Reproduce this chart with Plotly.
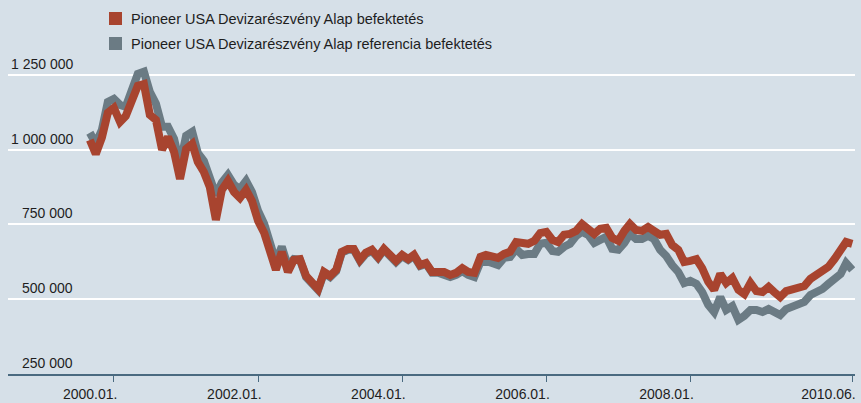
import pandas as pd
import plotly.graph_objects as go

# ---- data (monthly readings, thousand HUF) ----
start_month = "1999-09-01"
fund_k = [
    1032, 985, 1040, 1123, 1139, 1092, 1112, 1173, 1213, 1219,
    1116, 1099, 999, 1042, 992, 902, 1002, 1019, 959, 925,
    875, 765, 865, 895, 858, 838, 865, 828, 761, 721,
    671, 598, 658, 591, 631, 634, 578, 558, 534, 591,
    578, 598, 658, 668, 668, 631, 655, 665, 641, 668,
    644, 628, 648, 634, 648, 614, 621, 591, 591, 591,
    581, 588, 604, 591, 588, 641, 648, 644, 638, 651,
    658, 691, 691, 685, 695, 721, 725, 698, 691, 715,
    718, 728, 751, 738, 718, 735, 738, 705, 695, 728,
    751, 731, 728, 741, 731, 715, 718, 681, 665, 624,
    628, 634, 604, 558, 531, 584, 554, 571, 531, 517,
    554, 527, 524, 541, 524, 507, 527, 534, 541, 544,
    568, 584, 594, 608, 634, 665, 691, 685,
]
benchmark_k = [
    1056, 1020, 1066, 1159, 1169, 1149, 1143, 1196, 1253, 1260,
    1193, 1153, 1076, 1076, 1036, 949, 1046, 1059, 989, 962,
    905, 848, 889, 915, 882, 868, 895, 858, 795, 751,
    691, 624, 675, 611, 634, 631, 574, 554, 531, 588,
    574, 594, 655, 665, 665, 628, 651, 661, 638, 665,
    641, 624, 644, 631, 644, 611, 618, 588, 588, 584,
    574, 581, 594, 581, 574, 624, 628, 621, 614, 638,
    641, 668, 648, 651, 651, 685, 688, 661, 658, 675,
    685, 711, 725, 715, 688, 698, 708, 668, 665, 688,
    718, 701, 701, 711, 701, 665, 644, 614, 591, 554,
    561, 551, 524, 481, 457, 507, 464, 477, 431, 444,
    464, 464, 457, 467, 457, 447, 467, 477, 484, 491,
    514, 521, 534, 551, 571, 584, 621, 598,
]
series_names = [
    "Pioneer USA Devizarészvény Alap befektetés",
    "Pioneer USA Devizarészvény Alap referencia befektetés",
]
x_tick_dates = ["2000-01-01", "2002-01-01", "2004-01-01", "2006-01-01", "2008-01-01", "2010-04-01"]
x_tick_labels = ["2000.01.", "2002.01.", "2004.01.", "2006.01.", "2008.01.", "2010.06."]
y_tick_values = [250000, 500000, 750000, 1000000, 1250000]
y_tick_labels = ["250 000", "500 000", "750 000", "1 000 000", "1 250 000"]

# ---- styling ----
RED = "#a8442f"
GREY = "#6b7b84"
BG = "#d6e0e8"
AXIS = "#4a6a80"
TXT = "#1e1e1e"
FONT = "Liberation Sans, Arial, sans-serif"

dates = pd.date_range(start_month, periods=len(fund_k), freq="MS")
fund = [v * 1000 for v in fund_k]
bench = [v * 1000 for v in benchmark_k]

fig = go.Figure()
fig.add_trace(go.Scatter(x=dates, y=bench, mode="lines", name=series_names[1],
                         line=dict(color=GREY, width=8), showlegend=False))
fig.add_trace(go.Scatter(x=dates, y=fund, mode="lines", name=series_names[0],
                         line=dict(color=RED, width=8), showlegend=False))

# legend (square swatches + labels)
for i, (name, col) in enumerate([(series_names[0], RED), (series_names[1], GREY)]):
    top = 48 - i * 25
    fig.add_shape(type="rect", xref="paper", yref="paper", xsizemode="pixel", ysizemode="pixel",
                  xanchor=0, yanchor=1, x0=101, x1=114, y0=top - 13, y1=top,
                  fillcolor=col, line=dict(width=0), layer="above")
    fig.add_annotation(xref="paper", yref="paper", x=0, y=1, xshift=121, yshift=top - 6.5,
                       xanchor="left", yanchor="middle", text=name, showarrow=False,
                       font=dict(family=FONT, size=14.5, color=TXT))

# y labels above gridlines, right-aligned
for v, t in zip(y_tick_values, y_tick_labels):
    fig.add_annotation(xref="paper", yref="y", x=0, y=v, xshift=67, yshift=1,
                       xanchor="right", yanchor="bottom", text=t, showarrow=False,
                       font=dict(family=FONT, size=14, color=TXT))

fig.update_layout(
    width=861, height=403,
    margin=dict(l=8, r=6, t=60, b=29, autoexpand=False),
    paper_bgcolor=BG, plot_bgcolor=BG,
    showlegend=False,
    font=dict(family=FONT, size=14, color=TXT),
    xaxis=dict(type="date", range=["1998-07-13", "2010-04-15"],
               tickvals=x_tick_dates, ticktext=x_tick_labels,
               ticks="outside", ticklen=6, tickwidth=1, tickcolor=AXIS,
               ticklabelposition="outside left", ticklabelshift=5, ticklabelstandoff=6,
               showline=True, linecolor=AXIS, linewidth=2, automargin=False,
               showgrid=False, zeroline=False,
               tickfont=dict(family=FONT, size=14, color=TXT)),
    yaxis=dict(range=[250000, 1299100], tickvals=y_tick_values, showticklabels=False,
               showgrid=True, gridcolor="white", gridwidth=2, automargin=False,
               zeroline=False, showline=False, ticks=""),
)

fig.write_html(
    "out.html",
    config={"displayModeBar": False},
    post_script="document.body.style.margin='0';document.body.style.background='" + BG + "';",
)
